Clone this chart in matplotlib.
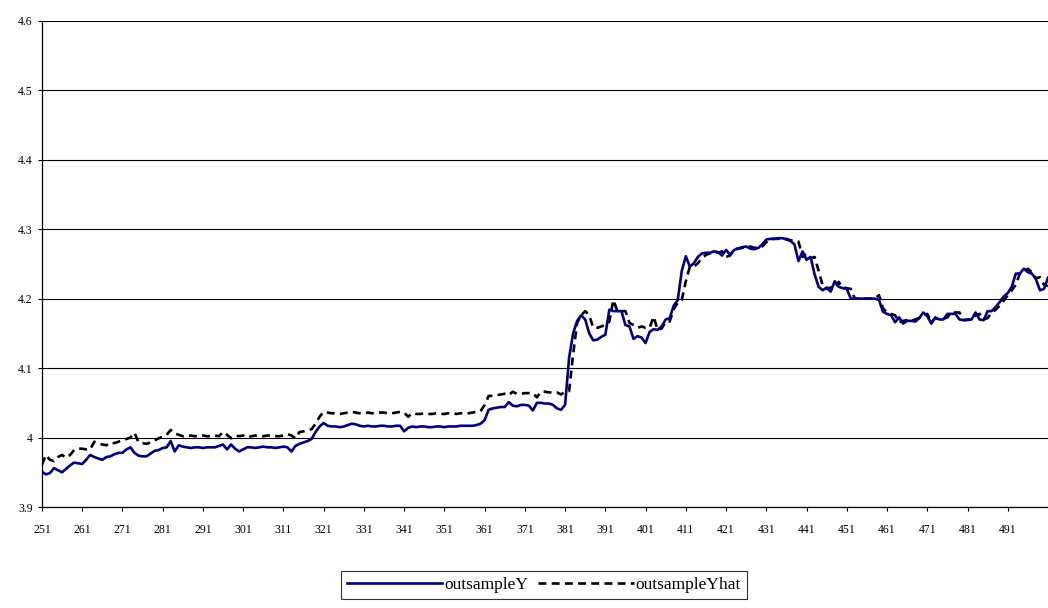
import numpy as np
import matplotlib
matplotlib.use('Agg')
import matplotlib.pyplot as plt

# observation index 251..501
start_obs = 251

outsample_y = [
    3.951, 3.947, 3.949, 3.956, 3.953, 3.950, 3.955, 3.960, 3.964, 3.963,
    3.962, 3.968, 3.975, 3.972, 3.970, 3.968, 3.972, 3.973, 3.976, 3.978,
    3.978, 3.983, 3.986, 3.978, 3.974, 3.973, 3.973, 3.977, 3.981, 3.982,
    3.985, 3.986, 3.995, 3.980, 3.989, 3.987, 3.986, 3.985, 3.986, 3.986,
    3.985, 3.986, 3.986, 3.986, 3.988, 3.990, 3.983, 3.990, 3.984, 3.980,
    3.983, 3.986, 3.986, 3.985, 3.986, 3.987, 3.986, 3.986, 3.985, 3.986,
    3.987, 3.986, 3.980, 3.988, 3.991, 3.993, 3.995, 3.998, 4.008, 4.016,
    4.021, 4.017, 4.016, 4.016, 4.015, 4.016, 4.018, 4.020, 4.019, 4.017,
    4.016, 4.017, 4.016, 4.016, 4.017, 4.017, 4.016, 4.016, 4.017, 4.017,
    4.009, 4.014, 4.016, 4.015, 4.016, 4.016, 4.015, 4.015, 4.016, 4.016,
    4.015, 4.016, 4.016, 4.016, 4.017, 4.017, 4.017, 4.017, 4.018, 4.020,
    4.025, 4.040, 4.042, 4.043, 4.044, 4.044, 4.051, 4.046, 4.045, 4.047,
    4.047, 4.046, 4.039, 4.050, 4.050, 4.049, 4.049, 4.047, 4.042, 4.040,
    4.047, 4.115, 4.150, 4.168, 4.176, 4.170, 4.150, 4.140, 4.141, 4.145,
    4.148, 4.184, 4.182, 4.182, 4.182, 4.162, 4.160, 4.142, 4.146, 4.144,
    4.136, 4.152, 4.156, 4.155, 4.160, 4.170, 4.172, 4.190, 4.198, 4.240,
    4.261, 4.246, 4.251, 4.260, 4.265, 4.266, 4.266, 4.268, 4.267, 4.262,
    4.270, 4.263, 4.270, 4.272, 4.274, 4.275, 4.272, 4.271, 4.273, 4.278,
    4.285, 4.286, 4.286, 4.287, 4.287, 4.285, 4.283, 4.278, 4.254, 4.268,
    4.256, 4.260, 4.235, 4.217, 4.212, 4.216, 4.210, 4.225, 4.217, 4.215,
    4.214, 4.200, 4.200, 4.200, 4.200, 4.200, 4.200, 4.200, 4.198, 4.181,
    4.178, 4.176, 4.166, 4.173, 4.164, 4.168, 4.168, 4.167, 4.172, 4.180,
    4.175, 4.164, 4.173, 4.170, 4.170, 4.178, 4.178, 4.178, 4.170, 4.169,
    4.169, 4.170, 4.180, 4.170, 4.169, 4.182, 4.182, 4.188, 4.195, 4.203,
    4.208, 4.217, 4.236, 4.236, 4.243, 4.238, 4.236, 4.228, 4.212, 4.214,
    4.230,
]

outsample_yhat = [
    3.961, 3.975, 3.968, 3.966, 3.972, 3.975, 3.971, 3.975, 3.982, 3.984,
    3.984, 3.983, 3.983, 3.994, 3.992, 3.990, 3.989, 3.993, 3.992, 3.994,
    3.996, 3.998, 4.000, 4.007, 3.993, 3.992, 3.991, 3.993, 3.996, 3.999,
    4.001, 4.004, 4.011, 4.006, 4.004, 4.002, 4.002, 4.003, 4.002, 4.002,
    4.003, 4.002, 4.002, 4.003, 4.002, 4.008, 4.004, 3.999, 4.003, 4.002,
    4.003, 4.000, 4.002, 4.003, 4.002, 4.002, 4.003, 4.003, 4.002, 4.002,
    4.003, 4.005, 4.003, 3.999, 4.008, 4.009, 4.010, 4.012, 4.020, 4.030,
    4.037, 4.036, 4.035, 4.035, 4.034, 4.035, 4.036, 4.037, 4.036, 4.035,
    4.035, 4.036, 4.035, 4.035, 4.036, 4.036, 4.035, 4.035, 4.036, 4.037,
    4.036, 4.030, 4.035, 4.034, 4.034, 4.035, 4.034, 4.034, 4.035, 4.034,
    4.034, 4.035, 4.035, 4.034, 4.035, 4.035, 4.035, 4.036, 4.037, 4.038,
    4.047, 4.060, 4.060, 4.061, 4.062, 4.063, 4.061, 4.066, 4.063, 4.063,
    4.064, 4.064, 4.064, 4.058, 4.066, 4.066, 4.065, 4.065, 4.065, 4.062,
    4.066, 4.067, 4.120, 4.165, 4.176, 4.182, 4.176, 4.158, 4.158, 4.160,
    4.162, 4.167, 4.198, 4.182, 4.182, 4.182, 4.165, 4.162, 4.158, 4.160,
    4.158, 4.158, 4.174, 4.155, 4.157, 4.167, 4.167, 4.185, 4.194, 4.198,
    4.225, 4.246, 4.246, 4.251, 4.258, 4.263, 4.265, 4.266, 4.266, 4.268,
    4.260, 4.262, 4.271, 4.272, 4.273, 4.274, 4.275, 4.273, 4.274, 4.275,
    4.281, 4.286, 4.286, 4.286, 4.287, 4.286, 4.284, 4.283, 4.282, 4.260,
    4.265, 4.258, 4.260, 4.240, 4.219, 4.214, 4.216, 4.214, 4.224, 4.216,
    4.215, 4.214, 4.200, 4.200, 4.200, 4.200, 4.200, 4.200, 4.205, 4.186,
    4.180, 4.178, 4.176, 4.166, 4.168, 4.169, 4.168, 4.170, 4.172, 4.176,
    4.178, 4.166, 4.172, 4.170, 4.171, 4.173, 4.180, 4.180, 4.180, 4.169,
    4.170, 4.170, 4.176, 4.178, 4.170, 4.172, 4.180, 4.184, 4.190, 4.197,
    4.205, 4.212, 4.220, 4.236, 4.240, 4.243, 4.238, 4.229, 4.231, 4.220,
    4.218,
]

y_ticks = [3.9, 4.0, 4.1, 4.2, 4.3, 4.4, 4.5, 4.6]
y_tick_labels = ['3.9', '4', '4.1', '4.2', '4.3', '4.4', '4.5', '4.6']
x_ticks = list(range(251, 492, 10))

obs = np.arange(start_obs, start_obs + len(outsample_y))

plt.rcParams['font.family'] = ['Liberation Serif', 'DejaVu Serif']

fig = plt.figure(figsize=(10.48, 6.08), dpi=100)
ax = fig.add_axes([0.040, 0.166, 0.960, 0.800])

for t in y_ticks:
    ax.axhline(t, color='black', lw=0.8, zorder=1)

ax.plot(obs, outsample_y, color='#000080', lw=1.9, label='outsampleY', zorder=3)
ax.plot(obs, outsample_yhat, color='black', lw=1.9, dashes=(3.0, 2.0),
        label='outsampleYhat', zorder=2)

ax.set_xlim(obs[0], obs[-1])
ax.set_ylim(3.9, 4.6)
ax.set_yticks(y_ticks)
ax.set_yticklabels(y_tick_labels)
ax.set_xticks(x_ticks)
ax.tick_params(axis='both', labelsize=8.5, length=3, width=0.8, color='black')
ax.tick_params(axis='x', pad=9)

for s in ['top', 'right']:
    ax.spines[s].set_visible(False)
for s in ['left', 'bottom']:
    ax.spines[s].set_linewidth(0.9)

leg = fig.legend(loc='center', bbox_to_anchor=(0.519, 0.038), ncol=2,
                 frameon=True, fancybox=False, edgecolor='black',
                 fontsize=12.5, handlelength=5.5, columnspacing=0.6,
                 handletextpad=0.1, borderpad=0.35)
leg.get_frame().set_linewidth(0.8)

fig.savefig('out.png', dpi=100)
